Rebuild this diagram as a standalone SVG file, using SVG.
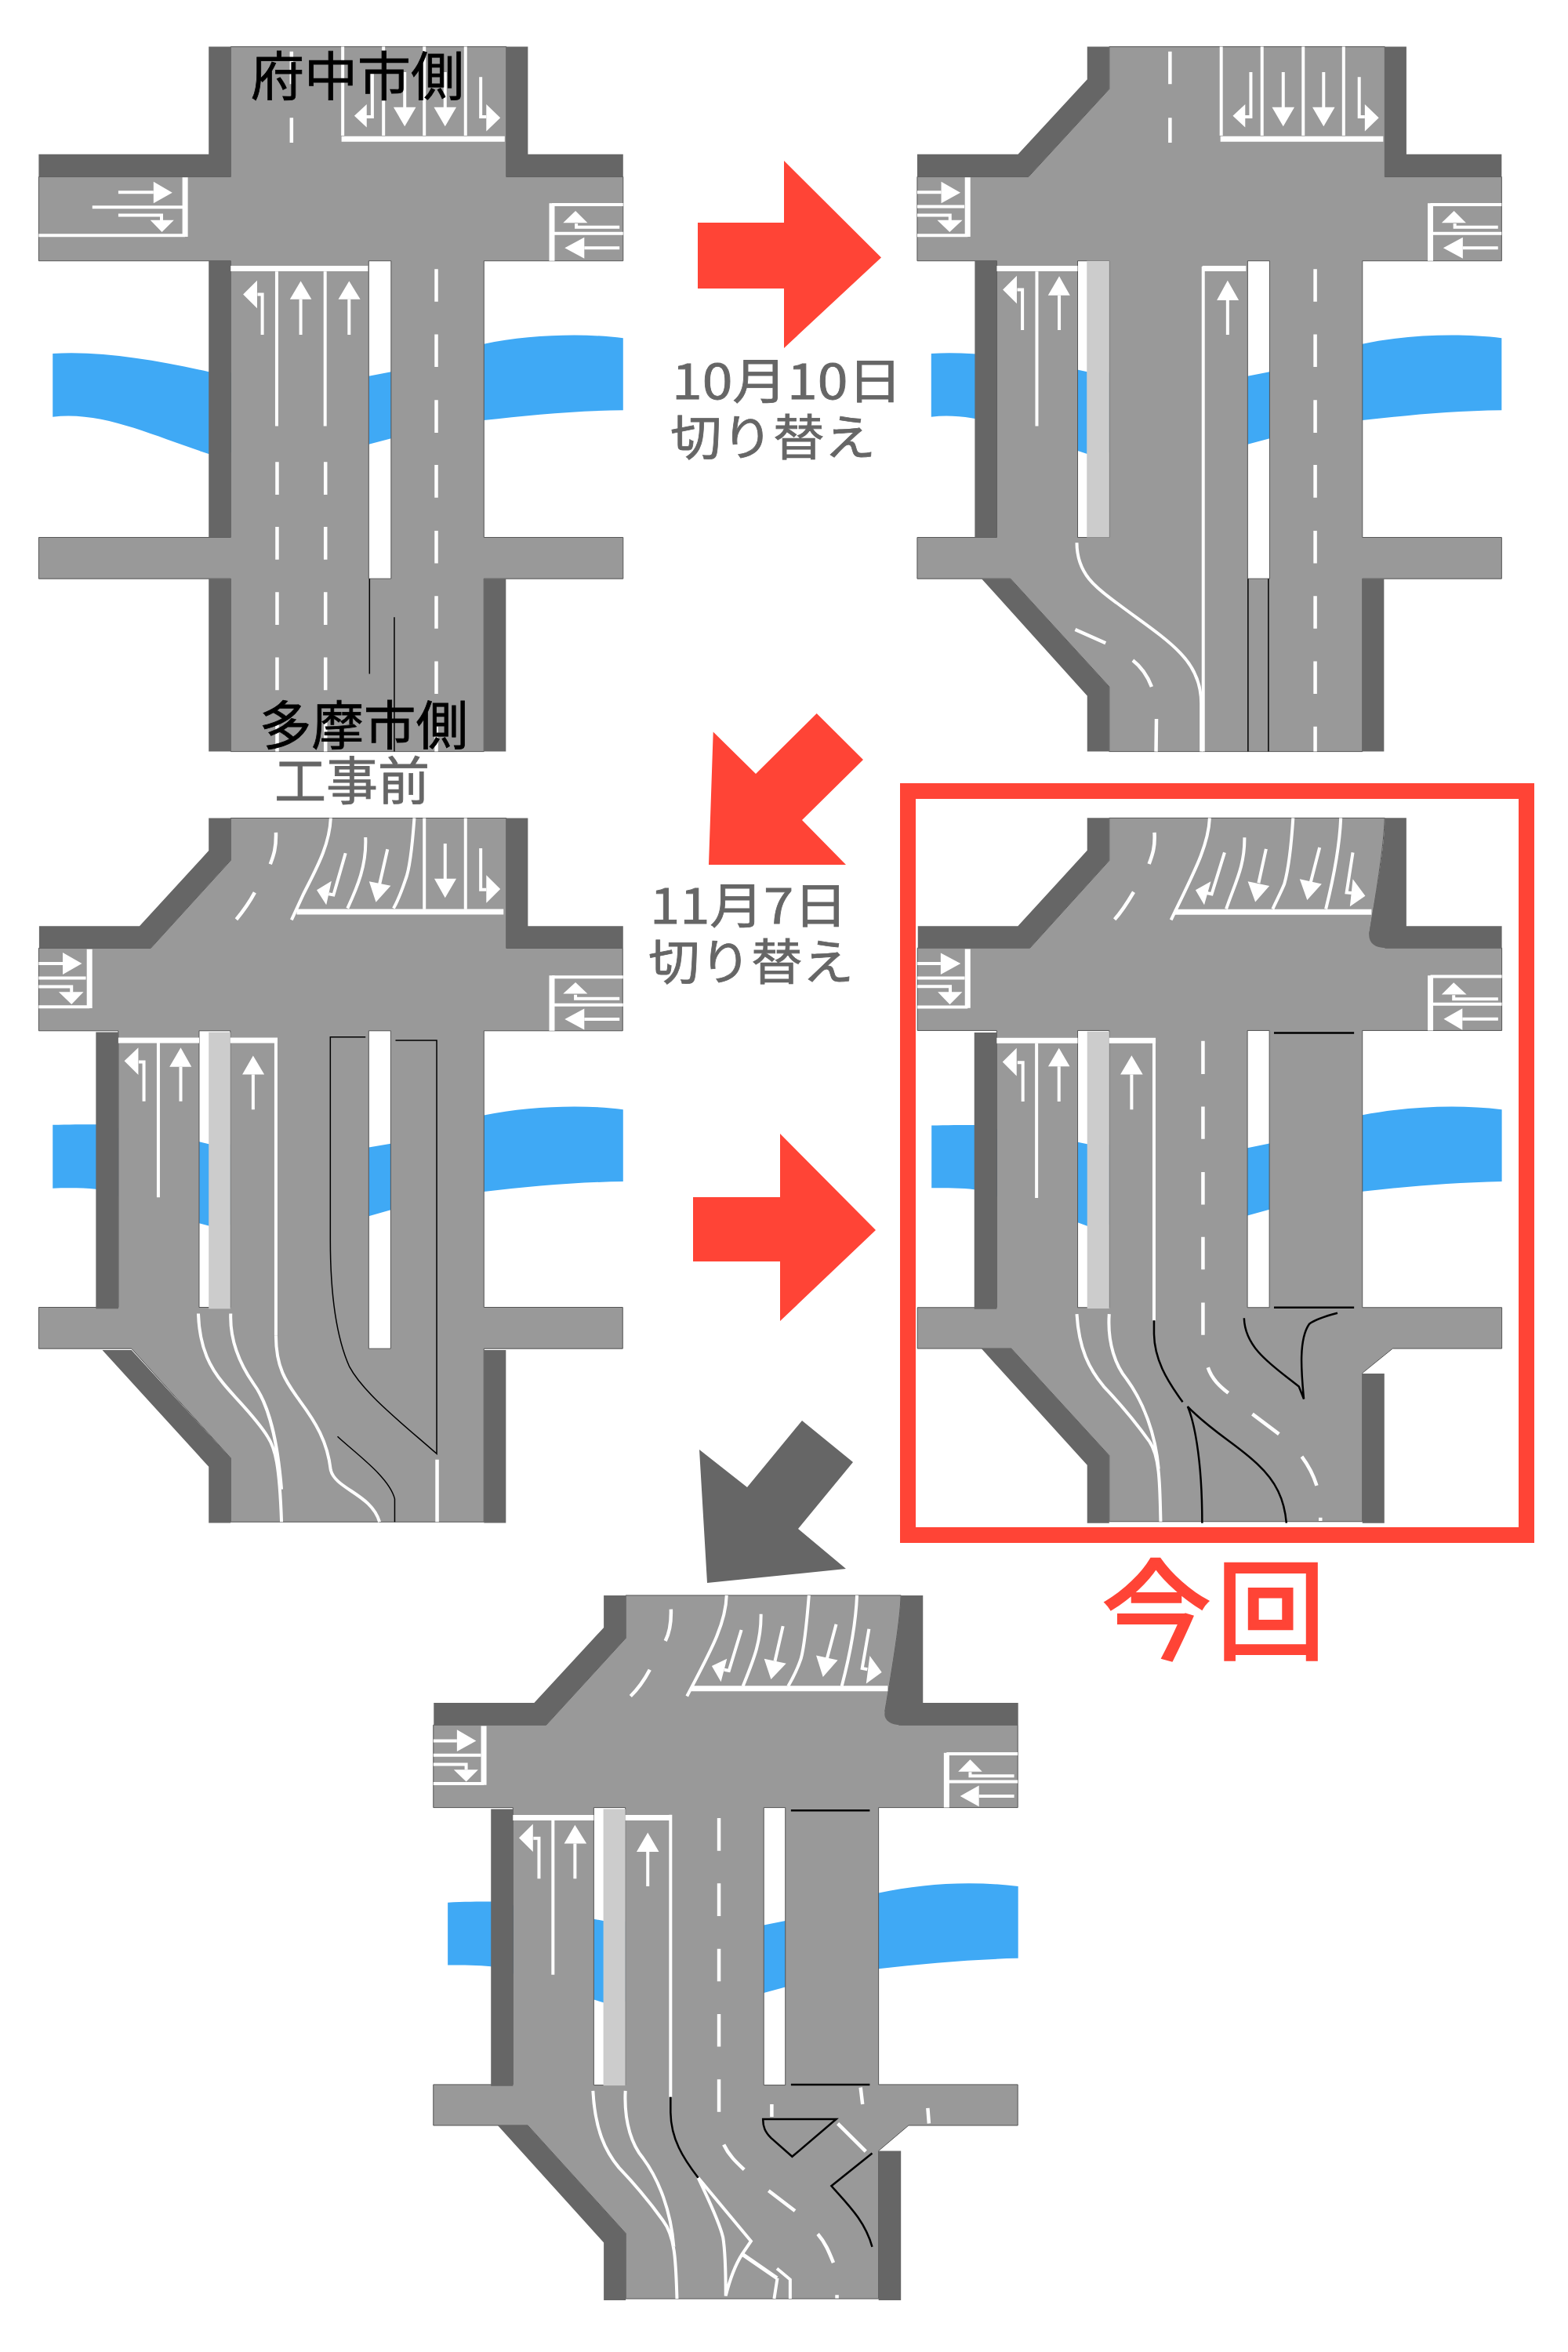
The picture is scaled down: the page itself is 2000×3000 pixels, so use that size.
<svg xmlns="http://www.w3.org/2000/svg" width="2000" height="3000" viewBox="0 0 2000 3000">
<style>
text{font-family:"Noto Sans CJK JP","Liberation Sans",sans-serif}
.t1{font-size:67px;fill:#000;stroke:#000;stroke-width:.8}
.t2{font-size:62px;fill:#666;stroke:#666;stroke-width:.8}
.river{fill:#3FA9F5}
.road{fill:#999;stroke:#555;stroke-width:1;vector-effect:non-scaling-stroke;fill-rule:evenodd}
.wall{fill:#666}
.bar{fill:#ccc}
.a{fill:#fff}
.m,.s,.l,.d{fill:none;stroke:#fff;vector-effect:non-scaling-stroke}
.m{stroke-width:4}
.s{stroke-width:7}
.l{stroke-width:4}
.d{stroke-width:4.500}
.k{fill:none;stroke:#000;stroke-width:1.500;vector-effect:non-scaling-stroke}
.k2{fill:none;stroke:#000;stroke-width:2.500;vector-effect:non-scaling-stroke}
.red{fill:#FF4436}
</style>
<g id="panel-before" transform="translate(30,40) scale(.5102,.6124)">
<path class="river" d="M73,671C200,665 330,685 463,709L863,718L919,709C1000,690 1080,660 1151,651C1260,632 1400,628 1499,639L1499,789C1380,790 1260,800 1151,810L919,848L863,860L463,880C330,845 200,790 73,803Z"/>
<path class="road" d="M518,32H1207V303H1499V478H1151V1054H1499V1140H1151V1500H518V1140H38V1054H518V478H38V303H518ZM863,478H919V1140H863Z"/>
<path class="wall" d="M463,32H518V303H38V256H463ZM1207,32H1261V256H1499V303H1207ZM463,478H518V1054H463ZM463,1140H518V1500H463ZM1151,1140H1206V1500H1151Z"/>
<path class="s" d="M795,224H1203M518,494H861M404,304V428M1321,358V478"/>
<path class="m" d="M38,425H404M172,366H400M1321,361H1499M1321,421H1499"/>
<path class="l" d="M798,32V217M900,32V217M1002,32V217M1105,32V217M633,500V822M754,500V822"/>
<path class="d" d="M670,42V110M670,180V232M634,897V965M634,1032V1100M634,1168V1236M634,1304V1372M634,1440V1500M755,897V965M755,1032V1100M755,1168V1236M755,1304V1372M755,1440V1500M1032,495V563M1032,631V699M1032,768V836M1032,903V971M1032,1040V1108M1032,1176V1244M1032,1312V1380M1032,1448V1500"/>
<path class="m" d="M872,85V178H855M953,85V160M1054,85V160M1143,95V178H1157M237,335H325M237,383H345V395M1490,408H1382V400M1490,451H1402M597,632V548H585M693,632V558M814,632V558"/>
<path class="a" d="M827,176L858,152V200ZM925,158H981L953,198ZM1026,158H1082L1054,198ZM1157,152L1192,180L1157,208ZM325,313L372,336L325,358ZM317,393H376L346,418ZM1349,399H1410L1380,374ZM1402,429V473L1353,451ZM584,519V577L549,548ZM666,558H720L693,520ZM787,558H842L814,520Z"/>
<path class="k" d="M865,1140V1338M927,1220V1500"/>
</g>
<g id="panel-oct10" transform="translate(1148.500,40) scale(.5102,.6124)">
<path class="river" d="M77,671C200,665 330,685 467,709L868,718L923,709C1000,690 1080,660 1155,651C1260,632 1400,628 1503,639L1503,789C1380,790 1260,800 1155,810L923,848L868,860L467,880C330,845 200,790 77,803Z"/>
<path class="road" d="M522,32H1211V303H1503V478H1155V1054H1503V1140H1155V1500H522V1365L275,1140H42V1054H241V478H42V303H320L522,120ZM868,478H923V1140H868ZM443,478H522V1054H443Z"/>
<path class="wall" d="M467,32H522V120L320,303H42V256H294L467,100ZM1211,32H1265V256H1503V303H1211ZM186,478H241V1054H186ZM203,1140H275L522,1365V1500H467V1384ZM1155,1140H1209V1500H1155Z"/>
<rect class="bar" x="466" y="478" width="56" height="576"/>
<path class="s" d="M800,224H1207M241,494H443M755,494H864M168,304V428M1325,358V478"/>
<path class="m" d="M42,425H168M42,365H160M1325,361H1503M1325,421H1503"/>
<path class="l" d="M802,32V217M904,32V217M1007,32V217M1108,32V217M341,500V822M757,490V1500"/>
<path class="m" d="M441,1065C441,1130 490,1160 540,1190C600,1228 660,1260 700,1295C735,1325 752,1360 752,1400V1500"/>
<path class="d" d="M674,42V110M674,180V232M437,1246L513,1274M581,1310Q612,1330 628,1365M640,1432L639,1500M1037,495V563M1037,631V699M1037,768V836M1037,903V971M1037,1040V1108M1037,1176V1244M1037,1312V1380M1037,1448V1500"/>
<path class="m" d="M876,85V178H860M957,85V160M1058,85V160M1147,95V178H1161M42,335H102M42,383H124V394M1494,408H1386V400M1494,451H1406M305,622V538H292M397,622V550M818,632V560"/>
<path class="a" d="M831,176L862,152V200ZM929,158H985L957,198ZM1030,158H1086L1058,198ZM1161,152L1196,180L1161,208ZM102,313L150,336L102,358ZM92,393H155L123,418ZM1353,399H1414L1384,374ZM1406,429V473L1357,451ZM291,509V567L256,538ZM369,550H424L397,510ZM791,560H846L818,519Z"/>
<path class="k" d="M869,1140V1500M920,1140V1500"/>
</g>
<g id="panel-nov7" transform="translate(30,1030) scale(.5102,.6124)">
<path class="river" d="M73,661C110,660 150,660 181,660L439,696L463,701L863,708L918,700C1000,680 1080,650 1151,641C1260,622 1400,618 1499,629L1499,779C1380,780 1260,790 1151,800L918,838L863,851L463,871L439,866L181,795C150,792 110,792 73,793Z"/>
<path class="road" d="M518,22H1207V293H1498V465H1151V1041H1498V1127H1151V1488H518V1355L270,1127H38V1041H237V465H38V293H318L518,110ZM439,465H517V1041H439ZM863,465H918V1127H863Z"/>
<path class="wall" d="M463,22H518V110L318,293H39V247H290L463,90ZM1207,22H1261V247H1499V293H1207ZM181,468H237V1044H181ZM197,1130H270L518,1355V1490H463V1373ZM1151,1130H1206V1490H1151Z"/>
<rect class="bar" x="463" y="468" width="54" height="576"/>
<path class="s" d="M683,217H1200M237,485H439M517,485H635M165,295V418M1321,350V465"/>
<path class="m" d="M38,415H165M38,355H156M1321,353H1499M1321,411H1499"/>
<path class="l" d="M1002,22V212M1105,22V212M337,490V812M631,480V1100"/>
<path class="m" d="M768,22C765,80 730,130 700,180L670,234M855,62C858,120 835,165 810,210M977,22C972,80 965,130 955,150C945,175 935,195 925,210M631,1100C631,1170 660,1200 690,1235C730,1280 760,1320 768,1380C780,1420 870,1430 890,1488M437,1054C440,1130 470,1170 500,1200C540,1240 580,1270 610,1310C630,1335 640,1370 645,1488M518,1054C515,1120 550,1170 575,1200C615,1245 635,1320 645,1420"/>
<path class="d" d="M631,52C632,85 625,100 617,118M578,177C560,205 545,220 532,233M1034,1358V1488"/>
<path class="m" d="M805,95L775,182L763,180M910,87L890,160M1054,75V150M1143,85V171H1157M38,325H98M38,373H120V385M1490,398H1380V390M1490,441H1402M301,612V530H288M393,612V540M574,629V556"/>
<path class="a" d="M733,172L770,153L757,203ZM864,154L918,163L881,197ZM1027,148H1082L1054,188ZM1157,141L1192,170L1157,199ZM98,302L146,325L98,348ZM88,384H150L120,410ZM1349,388H1410L1380,364ZM1402,419V463L1353,441ZM287,500V557L252,528ZM365,540H420L393,500ZM547,556H602L574,517Z"/>
<path class="k" d="M855,478H767V900C767,1000 780,1100 815,1165C850,1220 950,1285 1033,1346V485H930M785,1310C830,1345 915,1395 928,1440V1488"/>
</g>
<g id="panel-current" transform="translate(1148.500,1000) scale(.5294,.6378)">
<path class="river" d="M75,683C110,682 150,682 178,682L427,716L450,720L836,728L889,719C950,705 1040,675 1113,662C1220,645 1340,640 1449,651L1449,795C1330,797 1220,805 1113,815L889,851L836,863L450,884L427,877L178,811C150,808 110,808 75,808Z"/>
<path class="road" d="M503,68H1167C1165,120 1150,200 1130,300L1168,328H1449V493H1113V1047H1449V1129H1186L1113,1178V1475H503V1343L267,1129H41V1047H232V493H41V328H312L503,153ZM427,493H503V1047H427ZM836,493H889V1047H836Z"/>
<path class="wall" d="M450,68H503V153L312,328H42V284H283L450,133ZM1167,68H1219V284H1449V328H1170C1140,328 1125,315 1130,295C1150,200 1167,120 1167,68ZM178,497H232V1050H178ZM195,1129H267L503,1343V1478H450V1362ZM1113,1179H1166V1478H1113Z"/>
<rect class="bar" x="450" y="495" width="53" height="554"/>
<path class="s" d="M660,256H1135M232,513H427M503,513H615M162,330V448M1277,383V493"/>
<path class="m" d="M41,446H162M41,388H155M1277,385H1449M1277,440H1449"/>
<path class="l" d="M328,518V828M611,508V1073"/>
<path class="m" d="M745,68C742,125 705,180 652,272M829,107C830,165 805,200 785,250M946,68C942,120 935,170 925,200C915,220 905,235 897,250M1061,68C1058,130 1040,200 1025,250M425,1060C430,1130 455,1170 490,1205C530,1240 570,1280 600,1315C625,1345 625,1400 627,1475M503,1060C498,1120 520,1165 545,1190C585,1235 615,1300 622,1370"/>
<path class="d" d="M612,97C614,125 608,140 599,160M562,216C545,240 530,258 516,271M729,514V580M729,645V710M729,776V841M729,906V971M729,1037V1102M741,1167C750,1190 770,1205 790,1218M848,1260L912,1300M967,1345C985,1365 995,1382 1003,1403M1012,1467V1474"/>
<path class="m" d="M781,137L750,220L738,218M881,130L863,198M1010,127L988,198M1090,137L1075,217L1087,218M41,359H97M41,405H120V417M1440,430H1333V422M1440,470H1354M295,635V557H282M382,635V565M557,651V581"/>
<path class="a" d="M711,212L748,195L732,242ZM837,195L889,204L855,236ZM962,190L1015,200L980,232ZM1090,190L1120,224L1083,245ZM97,338L145,359L97,381ZM90,416H149L119,441ZM1304,421H1364L1333,397ZM1354,449V492L1309,470ZM280,528V584L246,556ZM356,565H408L382,528ZM530,581H584L557,543Z"/>
<path class="k2" d="M900,498H1093M900,1047H1093M611,1073V1100C612,1150 640,1190 680,1236M727,1478C727,1340 705,1270 692,1245C750,1295 810,1320 860,1360C905,1395 925,1430 930,1478M828,1068C830,1130 900,1165 960,1205L972,1230C965,1170 960,1110 985,1080C1000,1070 1030,1063 1053,1058"/>
</g>
<g id="panel-next" transform="translate(539.500,2030) scale(.5102,.6124)">
<path class="river" d="M62,648C100,646 140,646 170,646L427,682L451,686L852,695L906,686C970,670 1060,640 1139,628C1250,608 1370,602 1488,614L1488,764C1370,766 1250,775 1139,786L906,824L852,836L451,856L427,850L170,781C140,778 100,778 62,778Z"/>
<path class="road" d="M507,8H1195C1193,60 1175,150 1155,250L1190,278H1487V450H1139V1027H1487V1112H1214L1139,1165V1473H507V1337L262,1112H26V1027H225V450H26V278H308L507,97ZM427,450H506V1028H427ZM852,450H906V1028H852Z"/>
<path class="wall" d="M452,8H507V97L308,278H27V232H278L452,75ZM1195,8H1250V232H1488V278H1195C1165,278 1150,265 1155,250C1175,150 1193,60 1195,8ZM170,453H225V1030H170ZM187,1112H262L507,1337V1476H452V1356ZM1139,1165H1195V1476H1139Z"/>
<rect class="bar" x="451" y="453" width="55" height="576"/>
<path class="s" d="M670,202H1162M225,471H427M506,471H622M152,280V403M1309,336V450"/>
<path class="m" d="M26,400H152M26,341H145M1309,338H1487M1309,396H1487"/>
<path class="l" d="M325,476V798M619,465V1053"/>
<path class="m" d="M759,8C757,70 715,130 660,218M845,47C846,105 825,145 800,197M965,8C960,60 955,110 945,140C935,165 925,180 913,197M1085,8C1082,70 1065,140 1047,197M425,1040C430,1120 455,1165 490,1200C530,1235 570,1275 600,1310C632,1345 632,1400 635,1473M506,1040C502,1110 525,1155 550,1180C590,1225 620,1290 627,1365M688,1221L820,1353L798,1380C775,1410 765,1440 757,1467C757,1420 755,1370 750,1345C740,1310 710,1260 688,1221M885,1410L918,1433V1473M886,1430L878,1473"/>
<path class="s" style="stroke-width:5" d="M798,1380L885,1430"/>
<path class="d" d="M620,37C621,65 617,85 606,103M567,163C550,190 535,205 519,218M740,472V540M740,608V676M740,744V812M740,880V948M740,1016V1084M752,1152C765,1175 785,1190 803,1204M864,1248L930,1290M987,1338C1005,1355 1015,1375 1026,1398M1035,1465V1472M872,1068V1094M1094,1033L1099,1068M1262,1076L1265,1108M1037,1108L1107,1166"/>
<path class="m" d="M796,80L765,165L753,163M900,72L880,145M1033,68L1010,140M1115,78L1098,160L1111,162M26,311H85M26,360H108V371M1478,384H1368V376M1478,426H1390M290,598V514H276M380,598V525M562,614V542"/>
<path class="a" d="M722,155L760,140L745,188ZM853,140L908,150L870,183ZM983,133L1037,143L1000,178ZM1117,134L1147,168L1108,192ZM85,288L133,311L85,333ZM77,371H138L108,396ZM1338,375H1398L1368,350ZM1390,404V448L1343,426ZM275,484V542L240,513ZM353,525H409L380,486ZM534,542H590L562,502Z"/>
<path class="k2" d="M920,456H1117M920,1027H1117M619,1053V1085C620,1140 650,1180 688,1221M850,1099H1033L923,1177L870,1138C855,1125 850,1115 850,1099ZM1123,1170L1021,1238C1060,1275 1105,1310 1123,1365"/>
</g>
<g id="arrows">
<path class="red" d="M890,284H1000V205L1124,328.600L1000,444V368H890Z"/>
<path class="red" d="M1041.700,910L1101,969L1023,1046L1079,1103H904L909.700,933.600L964,987Z"/>
<path class="red" d="M884,1527H995V1446L1117,1569L995,1685V1609H884Z"/>
<path fill="#666" d="M1023,1812L1088,1865L1018,1950L1079,2001L902,2019L892,1849L953,1897Z"/>
</g>
<rect id="frame" x="1158" y="1009" width="789" height="949" fill="none" stroke="#FF4436" stroke-width="20"/>
<g id="labels">
<text class="t1" x="320" y="122" textLength="272" lengthAdjust="spacingAndGlyphs">府中市側</text>
<text class="t1" x="331" y="950" textLength="266" lengthAdjust="spacingAndGlyphs">多摩市側</text>
<text class="t2" x="350" y="1020" font-size="66" textLength="198" style="font-size:66px" lengthAdjust="spacingAndGlyphs">工事前</text>
<text class="t2" x="857" y="509" textLength="294" lengthAdjust="spacingAndGlyphs">10月10日</text>
<text class="t2" x="855" y="581" textLength="262" lengthAdjust="spacingAndGlyphs">切り替え</text>
<text class="t2" x="829" y="1178" textLength="252" lengthAdjust="spacingAndGlyphs">11月7日</text>
<text class="t2" x="827" y="1250" textLength="262" lengthAdjust="spacingAndGlyphs">切り替え</text>
<text x="1406" y="2105" font-size="138" fill="#FF4436" stroke="#FF4436" stroke-width="4" letter-spacing="8">今回</text>
</g>
</svg>
